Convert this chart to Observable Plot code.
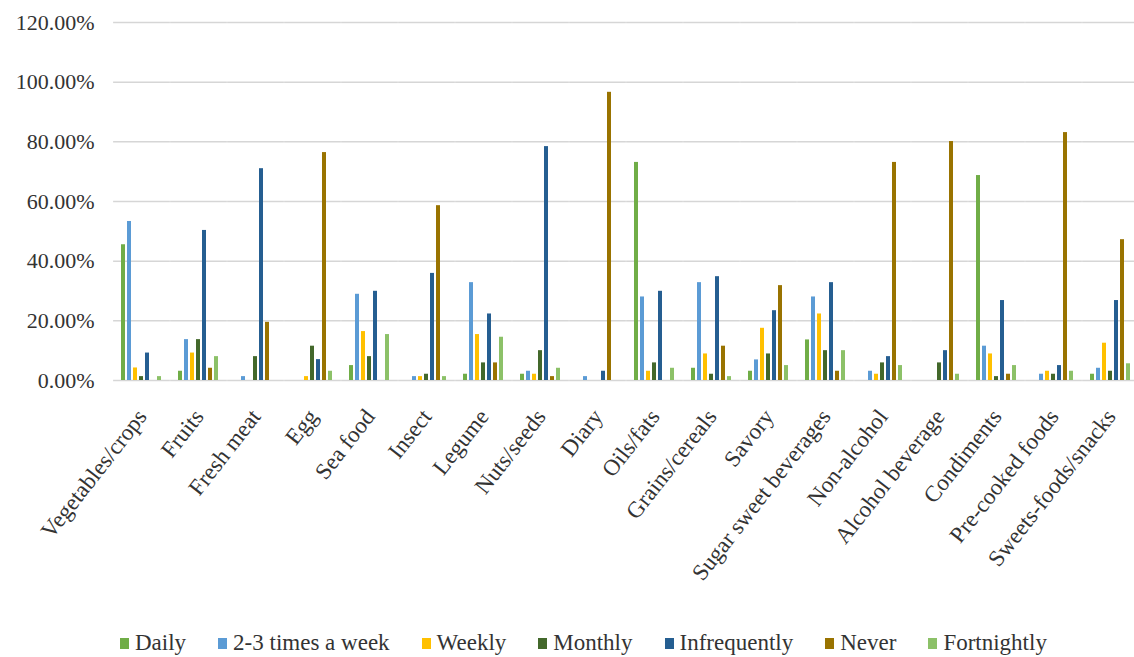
<!DOCTYPE html>
<html>
<head>
<meta charset="utf-8">
<script src="https://cdn.jsdelivr.net/npm/d3@7"></script>
<script src="https://cdn.jsdelivr.net/npm/@observablehq/plot@0.6"></script>
<style>
  html, body { margin: 0; padding: 0; background: #fff; overflow: hidden; width: 1134px; height: 657px; }
  #chart { position: relative; width: 1145px; height: 657px; }
  #chart svg { display: block; }
  #chart svg text { font-family: "Liberation Serif", Tinos, "Times New Roman", Times, "DejaVu Serif", serif; }
  .legend { position: absolute; left: 120px; top: 631px; display: flex; gap: 32px; align-items: center;
            font-family: "Liberation Serif", Tinos, "Times New Roman", Times, "DejaVu Serif", serif;
            font-size: 23px; color: #333; line-height: 24px; white-space: nowrap; }
  .legend .item { display: flex; align-items: center; }
  .legend .sw { display: inline-block; width: 9px; height: 11px; margin-right: 6px; }
</style>
</head>
<body>
<div id="chart"></div>
<script>
// Food groups on the category axis
const categories = [
  "Vegetables/crops", "Fruits", "Fresh meat", "Egg", "Sea food", "Insect", "Legume",
  "Nuts/seeds", "Diary", "Oils/fats", "Grains/cereals", "Savory", "Sugar sweet beverages",
  "Non-alcohol", "Alcohol beverage", "Condiments", "Pre-cooked foods", "Sweets-foods/snacks"
];

// Consumption frequency series and their colours
const series = ["Daily", "2-3 times a week", "Weekly", "Monthly", "Infrequently", "Never", "Fortnightly"];
const colors = ["#70ad47", "#5b9bd5", "#ffc000", "#43682b", "#255e91", "#997300", "#8cc168"];

// Share of respondents (%) per food group, one array per frequency
const daily        = [45.5, 3.1, 0, 0, 5.0, 0, 2.1, 2.1, 0, 73.1, 4.1, 3.1, 13.6, 0, 0, 68.7, 0, 2.1];
const twoThreeWeek = [53.3, 13.7, 1.3, 0, 28.9, 1.3, 32.8, 3.1, 1.3, 28.0, 32.8, 6.9, 28.0, 3.1, 0, 11.5, 2.1, 4.1];
const weekly       = [4.2, 9.2, 0, 1.3, 16.4, 1.3, 15.4, 2.1, 0, 3.1, 8.9, 17.5, 22.3, 2.1, 0, 8.9, 3.1, 12.5];
const monthly      = [1.3, 13.7, 8.0, 11.5, 8.0, 2.1, 5.9, 10.0, 0, 5.9, 2.1, 8.9, 10.0, 5.9, 5.9, 1.3, 2.1, 3.1];
const infrequently = [9.2, 50.3, 71.0, 7.0, 29.9, 35.9, 22.3, 78.4, 3.1, 29.9, 34.8, 23.4, 32.8, 8.0, 10.0, 26.8, 5.0, 26.8];
const never        = [0, 4.1, 19.5, 76.4, 0, 58.6, 5.9, 1.3, 96.6, 0, 11.5, 31.8, 3.1, 73.1, 80.1, 2.1, 83.1, 47.2];
const fortnightly  = [1.3, 8.0, 0, 3.1, 15.4, 1.3, 14.5, 4.1, 0, 4.1, 1.3, 5.0, 10.0, 5.0, 2.1, 5.0, 3.1, 5.6];

const yTicks = [0, 0.2, 0.4, 0.6, 0.8, 1.0, 1.2];

const bySeries = [daily, twoThreeWeek, weekly, monthly, infrequently, never, fortnightly];
const rows = categories.flatMap((category, i) =>
  series.map((s, j) => ({ category, series: s, value: bySeries[j][i] / 100 }))
);

const chart = Plot.plot({
  width: 1145,
  height: 600,
  marginLeft: 111,
  marginRight: 4,
  marginTop: 22,
  marginBottom: 220,
  style: { fontFamily: "'Liberation Serif', Tinos, 'Times New Roman', Times, 'DejaVu Serif', serif", fontSize: "22px", color: "#333", background: "#fff" },
  fx: { domain: categories, paddingInner: 0.17, paddingOuter: 0.085, label: null },
  x: { domain: series, paddingInner: 0.26, paddingOuter: 0.13, axis: null },
  y: { domain: [0, 1.2], label: null },
  color: { domain: series, range: colors },
  marks: [
    Plot.ruleY(yTicks, { stroke: "#d6d6d6", strokeWidth: 1.5, insetLeft: -4.9, insetRight: -4.9 }),
    Plot.barY(rows, { fx: "category", x: "series", y: "value", fill: "series" }),
    Plot.axisY({ ticks: yTicks, tickFormat: d3.format(".2%"), tickSize: 0, tickPadding: 24, label: null, fontSize: 22 }),
    Plot.axisFx({ anchor: "bottom", tickRotate: -52, tickSize: 0, tickPadding: 32, label: null, fontSize: 23 })
  ]
});

const root = document.getElementById("chart");
root.appendChild(chart);

// Legend row beneath the chart
const legend = document.createElement("div");
legend.className = "legend";
series.forEach((s, i) => {
  const item = document.createElement("div");
  item.className = "item";
  const sw = document.createElement("span");
  sw.className = "sw";
  sw.style.background = colors[i];
  item.appendChild(sw);
  item.appendChild(document.createTextNode(s));
  legend.appendChild(item);
});
root.appendChild(legend);
</script>
</body>
</html>
